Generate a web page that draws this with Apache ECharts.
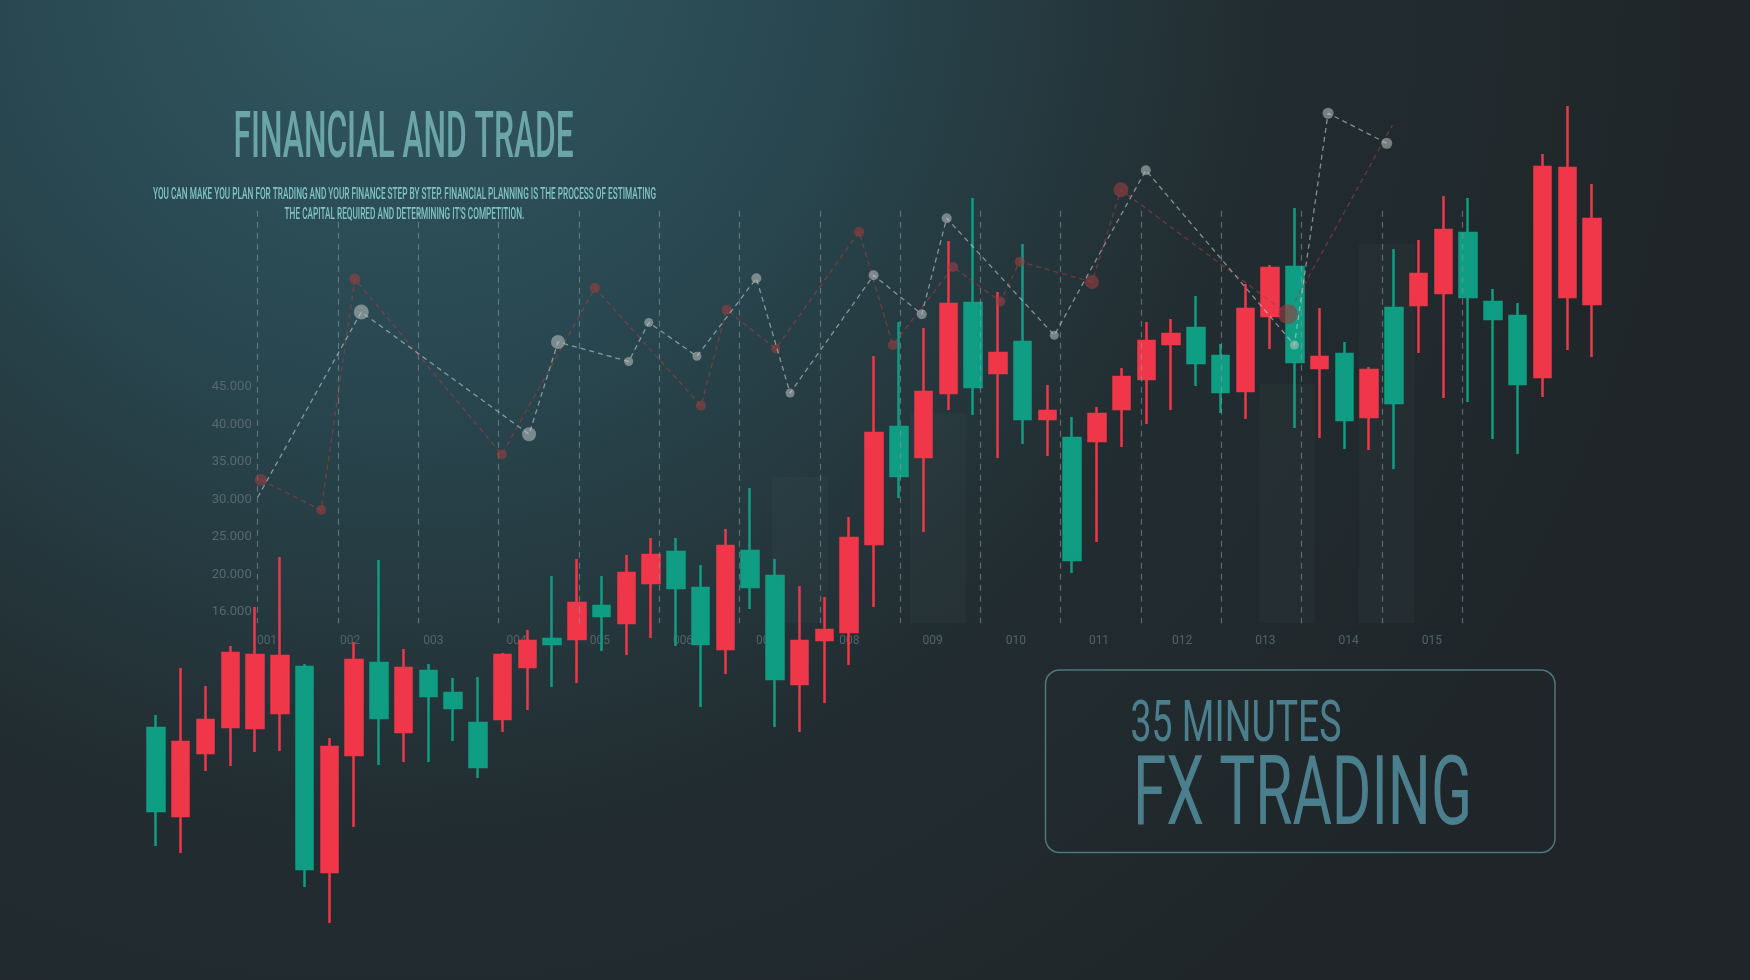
<!DOCTYPE html>
<html>
<head>
<meta charset="utf-8">
<script src="https://cdn.jsdelivr.net/npm/echarts@6/dist/echarts.min.js"></script>
<style>
html,body{margin:0;padding:0;background:#1f2629;overflow:hidden;}
#chart{width:1750px;height:980px;}
</style>
</head>
<body>
<div id="chart"></div>
<script>
// ---------------- DATA ----------------
// candlesticks: [open, close, low, high]
const candleOHLC = [
 [189,272,154,285],[258,184,147,332],[280,247,229,314],[347,273,234,354],[345,272,248,393],
 [344,287,249,443],[131,333,113,336],[253,128,77,262],[340,245,173,358],[282,337,235,440],
 [332,268,238,351],[304,329,238,336],[292,307,259,322],[233,277,222,323],[345,281,268,347],
 [359,333,290,370],[356,361,313,424],[397,361,317,441],[384,394,349,424],[427,377,345,445],
 [445,417,362,462],[412,448,354,462],[356,412,293,435],[454,351,326,471],[413,449,391,512],
 [321,424,273,441],[359,316,268,414],[370,360,297,403],[462,368,335,483],[567,456,393,644],
 [524,573,502,678],[608,543,468,672],[696,607,590,759],[613,697,585,802],[647,627,542,708],
 [581,658,556,756],[589,581,544,615],[440,562,427,583],[586,559,458,593],[623,591,553,632],
 [659,621,576,678],[666,656,590,681],[637,672,614,704],[608,644,587,656],[691,609,581,716],
 [732,684,651,735],[638,733,572,792],[643,632,562,692],[580,646,551,658],[630,583,550,633],
 [597,692,531,751],[726,695,647,760],[770,707,602,804],[703,767,598,802],[681,698,561,711],
 [616,684,546,697],[833,623,603,846],[832,703,650,894],[781,696,643,816]
];
const candleCategories = candleOHLC.map((d, i) => String(i + 1));

const xLabels = ['001','002','003','004','005','006','007','008','009','010','011','012','013','014','015'];
const yLabels = ['16.000','20.000','25.000','30.000','35.000','40.000','45.000'];

// dotted overlay lines: [column position, value]
const grayPath = [
 [0.00,30.3],[1.29,55.0],[3.38,38.7],[3.74,51.0],[4.62,48.4],[4.87,53.6],[5.47,49.1],[6.21,59.5],
 [6.63,44.2],[7.67,59.9],[8.27,54.7],[8.58,67.5],[9.92,51.9],[11.06,73.9],[12.91,50.6],[13.33,81.5],[14.06,77.5]
];
const redPath = [
 [0.04,32.6],[0.79,28.6],[1.21,59.4],[3.04,36.0],[4.20,58.2],[5.52,42.5],[5.84,55.3],[6.45,50.1],
 [7.49,65.7],[7.91,50.6],[8.66,61.0],[9.25,56.4],[9.49,61.7],[10.39,59.0],[10.75,71.3],[12.83,54.7],[14.13,79.9]
];
// faint background columns: [column position, value]
const shadeBars = [[6.75,33.0],[8.47,41.5],[12.82,45.4],[14.06,64.1]];

// ---------------- STYLE ----------------
const RED = '#f0374a', GREEN = '#0f9d83';
const graySizes = [0,15,14,14,9,9,9,10,9,10,10,10,9,10,9,11,11];
const redSizes = [12,10,11,10,10,10,10,9,10,10,10,10,10,14,15,20,0];

const chart = echarts.init(document.getElementById('chart'), null, {renderer:'canvas'});

const mctx = document.createElement('canvas').getContext('2d');
function fitScale(text, size, weight, family, target){
  mctx.font = weight + ' ' + size + 'px ' + family;
  return target / mctx.measureText(text).width;
}
const FAM = 'Roboto';
const title = 'FINANCIAL AND TRADE';
const sub1 = 'YOU CAN MAKE YOU PLAN FOR TRADING AND YOUR FINANCE STEP BY STEP. FINANCIAL PLANNING IS THE PROCESS OF ESTIMATING';
const sub2 = "THE CAPITAL REQUIRED AND DETERMINING IT'S COMPETITION.";
const box1 = '35 MINUTES';
const box2 = 'FX TRADING';
const sTitle = fitScale(title, 64, '500', FAM, 340);
const sSub = fitScale(sub1, 17, '500', FAM, 503);
const sBox1 = fitScale(box1, 57, 'normal', FAM, 211);
const sBox2 = fitScale(box2, 96, 'normal', FAM, 339);

function txt(text, x, y, size, weight, color, scale, align){
  return {
    type:'text', x:x, y:y, scaleX:scale, scaleY:1, z:20, silent:true,
    style:{text:text, fontSize:size, fontWeight:weight, fontFamily:FAM, fill:color,
      align:align||'left', verticalAlign:'middle', textAlign:align||'left', textVerticalAlign:'middle'}
  };
}

const bg = new echarts.graphic.RadialGradient(400, -40, 1380, [
  {offset:0, color:'#325961'},
  {offset:0.3, color:'#294750'},
  {offset:0.62, color:'#222d31'},
  {offset:1, color:'#1f2528'}
], true);

const option = {
  animation:false,
  backgroundColor:'#1f2528',
  graphic:[
    {type:'rect', z:-100, silent:true, shape:{x:0,y:0,width:1750,height:980}, style:{fill:bg}},
    txt(title, 233.6, 141, 64, '500', '#6ba4a9', sTitle),
    txt(sub1, 404.5, 195, 17, '500', '#80c4c7', sSub, 'center'),
    txt(sub2, 404.5, 215, 17, '500', '#80c4c7', sSub, 'center'),
    {type:'rect', z:20, silent:true, shape:{x:1045.5,y:670,width:509.5,height:182.5,r:14},
      style:{fill:'rgba(0,0,0,0)', stroke:'#4f777e', lineWidth:1.5}},
    txt(box1, 1130.5, 727, 57, 'normal', '#4c7f8e', sBox1),
    txt(box2, 1133, 800, 96, 'normal', '#4c7f8e', sBox2)
  ],
  grid:[
    {left:143.6, width:1460.8, top:100, height:840, outerBoundsMode:'none'},          // candles
    {left:257.7, width:1204.5, top:210.75, height:412.5, outerBoundsMode:'none'},     // dashed columns
    {left:257.7, width:1204.5, top:49.5, height:675, outerBoundsMode:'none'},         // overlay lines + y labels
    {left:225.4, width:1248, top:600, height:32, outerBoundsMode:'none'}              // x labels
  ],
  xAxis:[
    {gridIndex:0, type:'category', data:candleCategories, boundaryGap:true, show:false},
    {gridIndex:1, type:'value', min:0, max:15, interval:1, z:4,
      axisLine:{show:false}, axisTick:{show:false}, axisLabel:{show:false},
      splitLine:{show:true, showMinLine:true, showMaxLine:true,
        lineStyle:{color:'rgba(140,158,163,0.55)', width:1.2, type:[6,5]}}},
    {gridIndex:2, type:'value', min:0, max:15, show:false},
    {gridIndex:3, type:'category', data:xLabels, boundaryGap:true, z:0,
      axisLine:{show:false}, axisTick:{show:false},
      axisLabel:{show:true, color:'#52646a', fontSize:12, fontFamily:FAM, margin:3, interval:0}}
  ],
  yAxis:[
    {gridIndex:0, type:'value', min:60, max:900, show:false},
    {gridIndex:1, type:'value', min:13.5, max:68.5, show:false},
    {gridIndex:2, type:'value', min:0, max:90, interval:5, z:0,
      axisLine:{show:false}, axisTick:{show:false}, splitLine:{show:false},
      axisLabel:{show:true, color:'#58696e', fontSize:13, fontFamily:FAM, margin:6,
        formatter:function(v){ const i = Math.round((v - 15) / 5); return (v >= 15 && i <= 6) ? yLabels[i] : ''; }}},
    {gridIndex:3, type:'value', show:false}
  ],
  series:[
    {type:'bar', xAxisIndex:1, yAxisIndex:1, data:shadeBars, barWidth:56, z:1, silent:true,
      itemStyle:{color:'rgba(150,160,165,0.045)'}},
    {type:'candlestick', xAxisIndex:0, yAxisIndex:0, data:candleOHLC, barWidth:17, z:2, silent:true,
      itemStyle:{color:GREEN, color0:RED, borderColor:GREEN, borderColor0:RED, borderWidth:2.5}},
    {type:'line', xAxisIndex:2, yAxisIndex:2, data:redPath, z:6, silent:true,
      symbol:'circle', symbolSize:function(v,p){return redSizes[p.dataIndex];},
      lineStyle:{type:[5,4], width:1.3, color:'rgba(165,62,66,0.6)'},
      itemStyle:{color:'rgba(150,62,64,0.62)'}},
    {type:'line', xAxisIndex:2, yAxisIndex:2, data:grayPath, z:7, silent:true,
      symbol:'circle', symbolSize:function(v,p){return graySizes[p.dataIndex];},
      lineStyle:{type:[5,4], width:1.3, color:'rgba(215,222,222,0.55)'},
      itemStyle:{color:'rgba(190,196,196,0.55)'}}
  ]
};
chart.setOption(option);
</script>
</body>
</html>
